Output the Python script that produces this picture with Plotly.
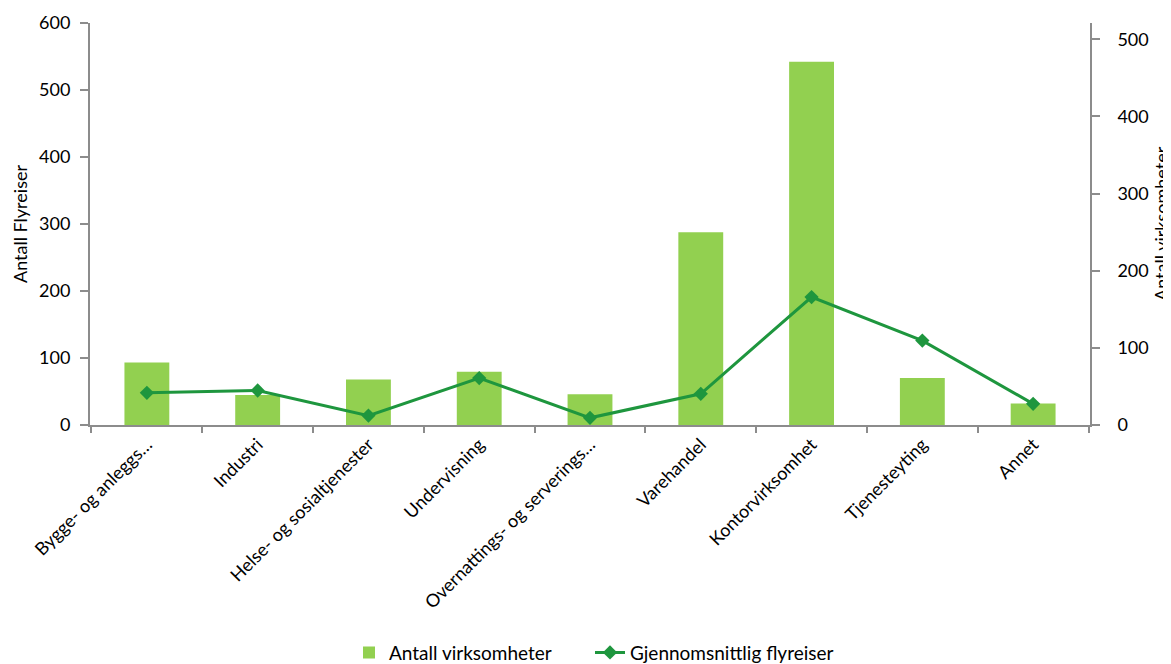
import plotly.graph_objects as go

categories = ["Bygge- og anleggs…", "Industri", "Helse- og sosialtjenester", "Undervisning",
              "Overnattings- og serverings…", "Varehandel", "Kontorvirksomhet", "Tjenesteyting", "Annet"]
antall_virksomheter = [81, 39, 59, 69, 40, 250, 471, 61, 28]
gjennomsnittlig_flyreiser = [48, 51.5, 14, 70, 10.7, 46.6, 191, 126, 31.6]

FONT = "Lato"
AXIS = "#8c8c8c"

fig = go.Figure()
fig.add_trace(go.Bar(
    x=categories, y=antall_virksomheter, name="Antall virksomheter",
    marker=dict(color="#92D050", line=dict(width=0)), yaxis="y2", legend="legend",
))
fig.add_trace(go.Scatter(
    x=categories, y=gjennomsnittlig_flyreiser, name="Gjennomsnittlig flyreiser",
    mode="lines+markers", line=dict(color="#1E963E", width=3),
    marker=dict(symbol="diamond", size=11, color="#1E963E"), yaxis="y", legend="legend2",
))

# the page body adds an 8px offset, so the figure is sized 8px smaller
fig.update_layout(
    width=1163, height=656,
    margin=dict(l=82, r=81, t=15, b=239, autoexpand=False),
    paper_bgcolor="white", plot_bgcolor="white",
    font=dict(family=FONT, size=18, color="#000000"),
    bargap=0.595,
    showlegend=True,
    legend=dict(orientation="h", x=0.259, xanchor="left", y=-0.566, yanchor="middle",
                font=dict(size=19), bgcolor="rgba(0,0,0,0)"),
    legend2=dict(orientation="h", x=0.500, xanchor="left", y=-0.566, yanchor="middle",
                 font=dict(size=19), bgcolor="rgba(0,0,0,0)"),
    xaxis=dict(type="category", showline=True, linecolor=AXIS, linewidth=2,
               ticks="outside", ticklen=6, tickcolor=AXIS, tickwidth=1.5,
               tickson="boundaries", tickangle=-45, showgrid=False, zeroline=False,
               tickfont=dict(size=18), automargin=False),
    yaxis2=dict(range=[0, 521.2], dtick=100, side="right", showline=True, linecolor=AXIS,
                linewidth=2, ticks="outside", ticklen=8, tickcolor=AXIS, tickwidth=1.5,
                tickprefix="\u00a0\u00a0\u00a0",
                showgrid=False, zeroline=False, automargin=False),
    yaxis=dict(range=[0, 600], dtick=100, side="left", overlaying="y2", showline=True,
               linecolor=AXIS, linewidth=2, ticks="outside", ticklen=8, tickcolor=AXIS,
               tickwidth=1.5, ticklabelstandoff=6, automargin=False,
               showgrid=False, zeroline=False,
               title=dict(text="Antall Flyreiser", font=dict(size=18), standoff=7)),
    annotations=[dict(text="Antall virksomheter", xref="paper", yref="paper",
                      x=1.071, y=0.5, xanchor="center", yanchor="middle",
                      textangle=-90, showarrow=False, font=dict(size=18))],
)

fig.write_html("out.html")
